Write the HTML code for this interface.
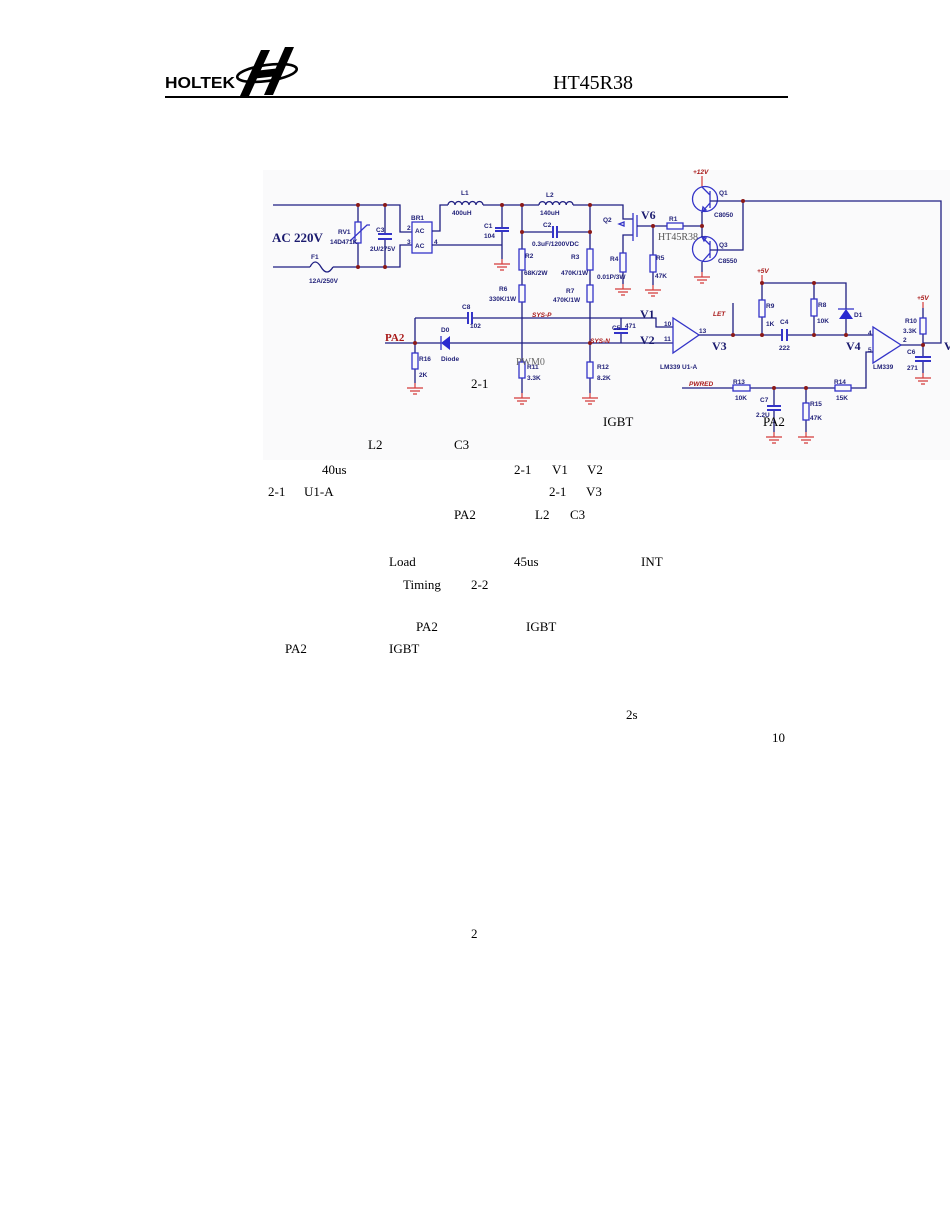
<!DOCTYPE html>
<html><head><meta charset="utf-8">
<style>
html,body{margin:0;padding:0;background:#fff;}
body{width:950px;height:1230px;overflow:hidden;position:relative;}
svg{position:absolute;left:0;top:0;}
.w{fill:none;stroke:#1f1f82;stroke-width:1.3;}
.c{fill:none;stroke:#3434c8;stroke-width:1.3;}
.p{fill:none;stroke:#3434c8;stroke-width:2;}
.g{fill:none;stroke:#d43a3a;stroke-width:1.2;}
.d{fill:#8a1a1a;}
.l{font-family:"Liberation Sans",sans-serif;font-size:6.5px;font-weight:bold;fill:#23237a;}
.r{font-family:"Liberation Sans",sans-serif;font-size:6.5px;font-style:italic;font-weight:bold;fill:#a81818;}
.b{font-family:"Liberation Serif",serif;font-weight:bold;fill:#1a1a6e;}
.t{font-family:"Liberation Serif",serif;font-size:13px;fill:#000;}
</style></head>
<body>
<svg width="950" height="1230" viewBox="0 0 950 1230" xmlns="http://www.w3.org/2000/svg">
<defs>
<g id="gnd"><path class="g" d="M0,-5V0M-8,0H8M-5,3H5M-2,6H2"/></g>
</defs>

<!-- Header -->
<text x="165" y="88" font-family="Liberation Sans,sans-serif" font-weight="bold" font-size="16" textLength="70" lengthAdjust="spacingAndGlyphs" fill="#000">HOLTEK</text>
<g fill="#000">
<polygon points="261,50 270,50 249,96 240,96"/>
<polygon points="285,47 294,47 273,95 264,95"/>
<polygon points="254,71 281,68 278,76 251,79"/>
</g>
<ellipse cx="267" cy="73" rx="30" ry="8" fill="none" stroke="#000" stroke-width="2.6" transform="rotate(-8 267 73)"/>
<text x="553" y="89" font-family="Liberation Serif,serif" font-size="20" fill="#000">HT45R38</text>
<rect x="165" y="96" width="623" height="2" fill="#000"/>

<!-- schematic background -->
<rect x="263" y="170" width="687" height="290" fill="#fafafb"/>

<!-- AC input wiring -->
<path class="w" d="M273,205H400V232H412M273,267H310M333,267H400V245H412"/>
<path class="w" d="M358,205V222M358,243V267M385,205V234M385,239V267"/>
<path class="w" d="M310,267q5,-10 11,0q6,10 12,0"/>
<rect class="c" x="355" y="222" width="6" height="21"/>
<path class="c" d="M350,241L367,225H370"/>
<path class="p" d="M378,234H392M378,239H392"/>
<rect class="c" x="412" y="222" width="20" height="31"/>
<path class="w" d="M432,231H440V205H448"/>
<path class="w" d="M448,205a3.5,3.5 0 0 1 7,0a3.5,3.5 0 0 1 7,0a3.5,3.5 0 0 1 7,0a3.5,3.5 0 0 1 7,0a3.5,3.5 0 0 1 7,0"/>
<path class="w" d="M483,205H539M573,205H623V219H633"/>
<path class="w" d="M539,205a3.4,3.4 0 0 1 6.8,0a3.4,3.4 0 0 1 6.8,0a3.4,3.4 0 0 1 6.8,0a3.4,3.4 0 0 1 6.8,0a3.4,3.4 0 0 1 6.8,0"/>
<path class="w" d="M432,245H502M502,205V228M502,231V259"/>
<path class="p" d="M495,228H509M495,231H509"/>
<use href="#gnd" x="502" y="264"/>

<!-- divider columns -->
<path class="w" d="M522,205V249M522,270V285M522,302V362M522,378V393"/>
<rect class="c" x="519" y="249" width="6" height="21"/>
<rect class="c" x="519" y="285" width="6" height="17"/>
<rect class="c" x="519" y="362" width="6" height="16"/>
<use href="#gnd" x="522" y="398"/>
<path class="w" d="M522,232H553M557,232H590"/>
<path class="p" d="M553,226V238M557,226V238"/>
<path class="w" d="M590,205V249M590,270V285M590,302V362M590,378V393"/>
<rect class="c" x="587" y="249" width="6" height="21"/>
<rect class="c" x="587" y="285" width="6" height="17"/>
<rect class="c" x="587" y="362" width="6" height="16"/>
<use href="#gnd" x="590" y="398"/>

<!-- MOSFET Q2 -->
<path class="w" d="M633,235H623V253M623,272V284"/>
<path class="c" d="M633,213V241" stroke-width="1.8"/>
<path class="c" d="M637,215V237"/>
<path class="c" d="M619,224l5,-2v4z"/>
<rect class="c" x="620" y="253" width="6" height="19"/>
<use href="#gnd" x="623" y="289"/>
<path class="w" d="M637,226H667M683,226H702"/>
<rect class="c" x="667" y="223" width="16" height="6"/>
<path class="w" d="M653,226V255M653,272V285"/>
<rect class="c" x="650" y="255" width="6" height="17"/>
<use href="#gnd" x="653" y="290"/>

<!-- Q1 / Q3 -->
<path class="g" d="M702,176V187"/>
<circle class="c" cx="705" cy="199" r="12.5"/>
<path class="c" d="M710,191V208M710,195L702,187M710,203L702,212"/>
<path class="c" d="M702,212l1,-5l3,3z" fill="#3434c8"/>
<circle class="c" cx="705" cy="249" r="12.5"/>
<path class="c" d="M710,241V258M710,245L702,237M710,253L702,262"/>
<path class="c" d="M702,237l4,1l-2,3z" fill="#3434c8"/>
<path class="w" d="M702,212V237M702,262V272"/>
<use href="#gnd" x="702" y="277"/>
<path class="w" d="M710,201H941V343H923M743,201V250H710"/>

<!-- SYS-P / SYS-N lines -->
<path class="w" d="M415,318H468M472,318H656V327H673"/>
<path class="p" d="M468,312V324M472,312V324"/>
<path class="w" d="M385,343H441M450,343H673"/>
<polygon points="441,343 450,336 450,350" fill="#2a2ad0"/>
<path class="c" d="M441,336V350" stroke-width="1.6"/>
<path class="w" d="M415,318V353M415,369V383"/>
<rect class="c" x="412" y="353" width="6" height="16"/>
<use href="#gnd" x="415" y="388"/>
<path class="w" d="M621,318V329M621,333V343"/>
<path class="p" d="M614,329H628M614,333H628"/>

<!-- U1-A -->
<polygon points="673,318 673,353 699,335" class="c"/>
<path class="w" d="M699,335H782M787,335H873"/>
<path class="p" d="M782,329V341M787,329V341"/>
<path class="w" d="M733,303V335"/>
<path class="g" d="M762,275V283"/>
<path class="w" d="M762,283H846V309M846,319V335M762,283V300M762,317V335M814,283V299M814,316V335"/>
<rect class="c" x="759" y="300" width="6" height="17"/>
<rect class="c" x="811" y="299" width="6" height="17"/>
<polygon points="846,309 839,319 853,319" fill="#2a2ad0"/>
<path class="c" d="M838,309H854" stroke-width="1.6"/>

<!-- U2 -->
<polygon points="873,327 873,363 901,345" class="c"/>
<path class="w" d="M901,345H923M873,352H866V388H851M835,388H750M733,388H682"/>
<rect class="c" x="835" y="385" width="16" height="6"/>
<rect class="c" x="733" y="385" width="17" height="6"/>
<path class="g" d="M923,302V308"/>
<path class="w" d="M923,308V318M923,334V357M923,361V373"/>
<rect class="c" x="920" y="318" width="6" height="16"/>
<path class="p" d="M915,357H931M915,361H931"/>
<use href="#gnd" x="923" y="378"/>
<path class="w" d="M774,388V406M774,410V432M806,388V403M806,420V432"/>
<path class="p" d="M767,406H781M767,410H781"/>
<rect class="c" x="803" y="403" width="6" height="17"/>
<use href="#gnd" x="774" y="437"/>
<use href="#gnd" x="806" y="437"/>

<!-- junction dots -->
<g class="d">
<circle cx="358" cy="205" r="2"/><circle cx="385" cy="205" r="2"/>
<circle cx="358" cy="267" r="2"/><circle cx="385" cy="267" r="2"/>
<circle cx="502" cy="205" r="2"/><circle cx="522" cy="205" r="2"/>
<circle cx="590" cy="205" r="2"/><circle cx="522" cy="232" r="2"/>
<circle cx="590" cy="232" r="2"/><circle cx="653" cy="226" r="2"/>
<circle cx="702" cy="226" r="2"/><circle cx="743" cy="201" r="2"/>
<circle cx="415" cy="343" r="2"/><circle cx="590" cy="343" r="2"/>
<circle cx="733" cy="335" r="2"/><circle cx="762" cy="335" r="2"/>
<circle cx="814" cy="335" r="2"/><circle cx="846" cy="335" r="2"/>
<circle cx="762" cy="283" r="2"/><circle cx="814" cy="283" r="2"/>
<circle cx="923" cy="345" r="2"/><circle cx="774" cy="388" r="2"/>
<circle cx="806" cy="388" r="2"/>
</g>

<!-- small labels -->
<g class="l">
<text x="338" y="234">RV1</text><text x="330" y="244">14D471K</text>
<text x="376" y="232">C3</text><text x="370" y="251">2U/275V</text>
<text x="311" y="259">F1</text><text x="309" y="283">12A/250V</text>
<text x="411" y="220">BR1</text>
<text x="415" y="233">AC</text><text x="415" y="248">AC</text>
<text x="407" y="230">2</text><text x="407" y="244">3</text><text x="434" y="244">4</text>
<text x="461" y="195">L1</text><text x="452" y="215">400uH</text>
<text x="484" y="228">C1</text><text x="484" y="238">104</text>
<text x="546" y="197">L2</text><text x="540" y="215">140uH</text>
<text x="543" y="227">C2</text><text x="532" y="246">0.3uF/1200VDC</text>
<text x="525" y="258">R2</text><text x="524" y="275">68K/2W</text>
<text x="499" y="291">R6</text><text x="489" y="301">330K/1W</text>
<text x="571" y="259">R3</text><text x="561" y="275">470K/1W</text>
<text x="566" y="293">R7</text><text x="553" y="302">470K/1W</text>
<text x="603" y="222">Q2</text>
<text x="610" y="261">R4</text><text x="597" y="279">0.01P/3W</text>
<text x="669" y="221">R1</text>
<text x="656" y="260">R5</text><text x="655" y="278">47K</text>
<text x="719" y="195">Q1</text><text x="714" y="217">C8050</text>
<text x="719" y="247">Q3</text><text x="718" y="263">C8550</text>
<text x="462" y="309">C8</text><text x="470" y="328">102</text>
<text x="441" y="332">D0</text><text x="441" y="361">Diode</text>
<text x="419" y="361">R16</text><text x="419" y="377">2K</text>
<text x="527" y="369">R11</text><text x="527" y="380">3.3K</text>
<text x="597" y="369">R12</text><text x="597" y="380">8.2K</text>
<text x="612" y="330">C5</text><text x="625" y="328">471</text>
<text x="664" y="326">10</text><text x="664" y="341">11</text><text x="699" y="333">13</text>
<text x="660" y="369">LM339 U1-A</text>
<text x="766" y="308">R9</text><text x="766" y="326">1K</text>
<text x="818" y="307">R8</text><text x="817" y="323">10K</text>
<text x="780" y="324">C4</text><text x="779" y="350">222</text>
<text x="854" y="317">D1</text>
<text x="868" y="335">4</text><text x="868" y="352">5</text><text x="903" y="342">2</text>
<text x="873" y="369">LM339</text>
<text x="905" y="323">R10</text><text x="903" y="333">3.3K</text>
<text x="907" y="354">C6</text><text x="907" y="370">271</text>
<text x="733" y="384">R13</text><text x="735" y="400">10K</text>
<text x="760" y="402">C7</text><text x="756" y="417">2.2U</text>
<text x="810" y="406">R15</text><text x="810" y="420">47K</text>
<text x="834" y="384">R14</text><text x="836" y="400">15K</text>
</g>

<!-- red labels -->
<g class="r">
<text x="693" y="174">+12V</text>
<text x="757" y="273">+5V</text>
<text x="917" y="300">+5V</text>
<text x="532" y="317">SYS-P</text>
<text x="590" y="343">SYS-N</text>
<text x="713" y="316">LET</text>
<text x="689" y="386">PWRED</text>
</g>
<text x="385" y="341" font-family="Liberation Serif,serif" font-weight="bold" font-size="11" fill="#a81818">PA2</text>

<!-- bold node labels -->
<text class="b" x="272" y="242" font-size="13">AC 220V</text>
<text class="b" x="641" y="219" font-size="12">V6</text>
<text class="b" x="640" y="318" font-size="12">V1</text>
<text class="b" x="640" y="344" font-size="12">V2</text>
<text class="b" x="712" y="350" font-size="12">V3</text>
<text class="b" x="846" y="350" font-size="12">V4</text>
<text class="b" x="944" y="350" font-size="12">V5</text>

<!-- overlay texts -->
<text x="658" y="240" font-family="Liberation Serif,serif" font-size="10" fill="#555">HT45R38</text>
<text x="516" y="365" font-family="Liberation Serif,serif" font-size="10" fill="#666">PWM0</text>
<text class="t" x="471" y="388" font-size="14">2-1</text>

<!-- body text fragments -->
<g class="t">
<text x="603" y="426">IGBT</text><text x="763" y="426">PA2</text>
<text x="368" y="449">L2</text><text x="454" y="449">C3</text>
<text x="322" y="474">40us</text><text x="514" y="474">2-1</text><text x="552" y="474">V1</text><text x="587" y="474">V2</text>
<text x="268" y="496">2-1</text><text x="304" y="496">U1-A</text><text x="549" y="496">2-1</text><text x="586" y="496">V3</text>
<text x="454" y="519">PA2</text><text x="535" y="519">L2</text><text x="570" y="519">C3</text>
<text x="389" y="566">Load</text><text x="514" y="566">45us</text><text x="641" y="566">INT</text>
<text x="403" y="589">Timing</text><text x="471" y="589">2-2</text>
<text x="416" y="631">PA2</text><text x="526" y="631">IGBT</text>
<text x="285" y="653">PA2</text><text x="389" y="653">IGBT</text>
<text x="626" y="719">2s</text>
<text x="772" y="742">10</text>
<text x="471" y="938">2</text>
</g>
</svg>
</body></html>
